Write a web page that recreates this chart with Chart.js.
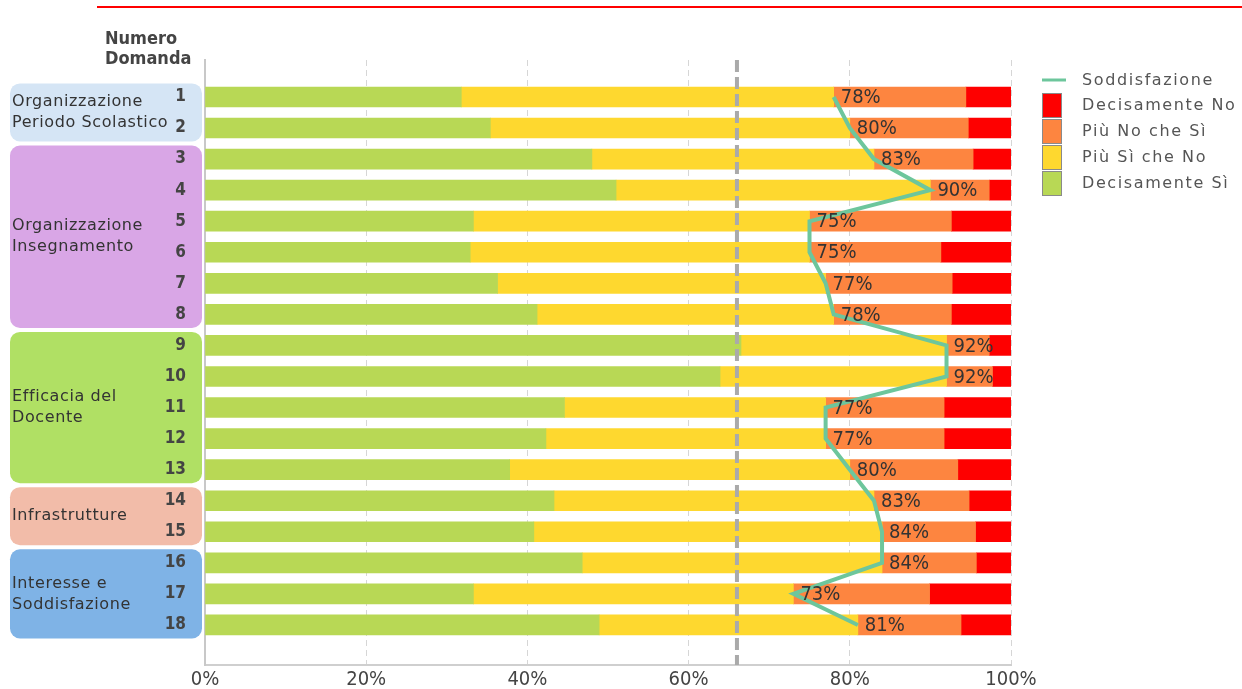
<!DOCTYPE html>
<html>
<head>
<meta charset="utf-8">
<script src="https://cdn.jsdelivr.net/npm/chart.js@4"></script>
<style>
  html, body { margin: 0; padding: 0; background: #ffffff; }
  #wrap { width: 1242px; height: 689px; position: relative; }
</style>
</head>
<body>
<div id="wrap"><canvas id="chart" width="1242" height="689"></canvas></div>
<script>
// Question numbers (one bar per question)
const questionNumbers = [1, 2, 3, 4, 5, 6, 7, 8, 9, 10, 11, 12, 13, 14, 15, 16, 17, 18];

// Answer shares, percent
const decisamenteSi = [31.8, 35.4, 48.0, 51.0, 33.3, 32.9, 36.3, 41.2, 66.5, 63.9, 44.6, 42.3, 37.8, 43.3, 40.8, 46.8, 33.3, 48.9];
const piuSiCheNo    = [46.2, 44.6, 35.0, 39.0, 41.7, 42.1, 40.7, 36.8, 25.5, 28.1, 32.4, 34.7, 42.2, 39.7, 43.2, 37.2, 39.7, 32.1];
const piuNoCheSi    = [16.4, 14.7, 12.3,  7.3, 17.6, 16.3, 15.7, 14.6,  5.3,  5.7, 14.7, 14.7, 13.4, 11.8, 11.6, 11.7, 16.9, 12.8];
const decisamenteNo = [ 5.6,  5.3,  4.7,  2.7,  7.4,  8.7,  7.3,  7.4,  2.7,  2.3,  8.3,  8.3,  6.6,  5.2,  4.4,  4.3, 10.1,  6.2];

// Satisfaction index (share of positive answers), percent
const soddisfazione = [78, 80, 83, 90, 75, 75, 77, 78, 92, 92, 77, 77, 80, 83, 84, 84, 73, 81];

// Reference threshold and x-axis ticks
const sogliaRiferimento = 66;
const xTickValues = [0, 20, 40, 60, 80, 100];

// Question groups
const groupLabels = [
  ['Organizzazione', 'Periodo Scolastico'],
  ['Organizzazione', 'Insegnamento'],
  ['Efficacia del', 'Docente'],
  ['Infrastrutture'],
  ['Interesse e', 'Soddisfazione']
];
const groupFirstQuestion = [1, 3, 9, 14, 16];
const groupLastQuestion  = [2, 8, 13, 15, 18];

const seriesNames = ['Decisamente Sì', 'Più Sì che No', 'Più No che Sì', 'Decisamente No'];
const lineName = 'Soddisfazione';

// ---- styling ----
const COLORS = {
  si: '#b8d855',
  piuSi: '#fed82f',
  piuNo: '#fd8540',
  no: '#fe0000',
  line: '#6dc69c',
  groups: ['#d5e5f5', '#d9a6e6', '#b0e064', '#f2bca9', '#7fb3e6']
};
const CONDENSED = '"DejaVu Sans Condensed", "Liberation Sans Narrow", "DejaVu Sans", sans-serif';
const REGULAR = '"DejaVu Sans", "Liberation Sans", sans-serif';

const barDataset = (label, data, color) => ({
  type: 'bar',
  label,
  data,
  backgroundColor: color,
  borderWidth: 0,
  barThickness: 20,
  indexAxis: 'y',
  stack: 'risposte',
  order: 2
});

// Group boxes, header and top rule drawn under the scales
const backgroundDecor = {
  id: 'backgroundDecor',
  beforeDraw(chart) {
    const { ctx } = chart;
    const y = chart.scales.y;
    ctx.save();
    ctx.strokeStyle = '#ff0000';
    ctx.lineWidth = 2;
    ctx.beginPath();
    ctx.moveTo(97, 7);
    ctx.lineTo(1242, 7);
    ctx.stroke();

    ctx.fillStyle = '#444444';
    ctx.font = 'bold 18px ' + CONDENSED;
    ctx.textAlign = 'left';
    ctx.textBaseline = 'middle';
    ctx.fillText('Numero', 105, 39);
    ctx.fillText('Domanda', 105, 59);

    groupLabels.forEach((lines, i) => {
      const top = y.getPixelForValue(groupFirstQuestion[i] - 0.5) + 2;
      const bottom = y.getPixelForValue(groupLastQuestion[i] + 0.5) - 2;
      ctx.fillStyle = COLORS.groups[i];
      ctx.beginPath();
      ctx.roundRect(10, top, 192, bottom - top, 10);
      ctx.fill();

      ctx.fillStyle = '#333333';
      ctx.font = '16px ' + REGULAR;
      ctx.letterSpacing = '0.6px';
      const lh = 21;
      const mid = (top + bottom) / 2;
      lines.forEach((t, k) => {
        ctx.fillText(t, 12, mid + (k - (lines.length - 1) / 2) * lh);
      });
      ctx.letterSpacing = '0px';
    });
    ctx.restore();
  }
};

// Threshold line and satisfaction value labels
const overlayDecor = {
  id: 'overlayDecor',
  afterDatasetsDraw(chart) {
    const { ctx, chartArea } = chart;
    const x = chart.scales.x;
    const y = chart.scales.y;
    ctx.save();
    const tx = x.getPixelForValue(sogliaRiferimento);
    ctx.strokeStyle = '#aaaaaa';
    ctx.lineWidth = 4;
    ctx.setLineDash([12, 5]);
    ctx.beginPath();
    ctx.moveTo(tx, chartArea.top);
    ctx.lineTo(tx, chartArea.bottom);
    ctx.stroke();
    ctx.setLineDash([]);

    ctx.fillStyle = '#333333';
    ctx.font = '20px ' + CONDENSED;
    ctx.textAlign = 'left';
    ctx.textBaseline = 'middle';
    soddisfazione.forEach((v, i) => {
      const px = x.getPixelForValue(v);
      const py = y.getPixelForValue(questionNumbers[i]);
      ctx.fillText(v + '%', px + 7, py + 1);
    });
    ctx.restore();
  },
  afterDraw(chart) {
    const { ctx } = chart;
    ctx.save();
    const lx = 1042, tx = 1082;
    ctx.strokeStyle = COLORS.line;
    ctx.lineWidth = 3;
    ctx.beginPath();
    ctx.moveTo(lx, 80);
    ctx.lineTo(lx + 24, 80);
    ctx.stroke();

    ctx.font = '16px ' + REGULAR;
    ctx.letterSpacing = '1.6px';
    ctx.fillStyle = '#555555';
    ctx.textAlign = 'left';
    ctx.textBaseline = 'middle';
    ctx.fillText(lineName, tx, 81);

    const legendItems = [
      [seriesNames[3], COLORS.no],
      [seriesNames[2], COLORS.piuNo],
      [seriesNames[1], COLORS.piuSi],
      [seriesNames[0], COLORS.si]
    ];
    legendItems.forEach(([name, color], k) => {
      const top = 93 + k * 26;
      ctx.fillStyle = color;
      ctx.fillRect(lx, top, 20, 25);
      ctx.strokeStyle = '#8a8a8a';
      ctx.lineWidth = 1;
      ctx.strokeRect(lx + 0.5, top + 0.5, 19, 24);
      ctx.fillStyle = '#555555';
      ctx.fillText(name, tx, top + 13);
    });
    ctx.restore();
  }
};

new Chart(document.getElementById('chart'), {
  type: 'bar',
  data: {
    labels: questionNumbers,
    datasets: [
      {
        type: 'line',
        label: lineName,
        data: soddisfazione,
        indexAxis: 'y',
        borderColor: COLORS.line,
        borderWidth: 4,
        pointRadius: 0,
        tension: 0,
        fill: false,
        stack: 'indice',
        order: 0
      },
      barDataset(seriesNames[0], decisamenteSi, COLORS.si),
      barDataset(seriesNames[1], piuSiCheNo, COLORS.piuSi),
      barDataset(seriesNames[2], piuNoCheSi, COLORS.piuNo),
      barDataset(seriesNames[3], decisamenteNo, COLORS.no)
    ]
  },
  options: {
    indexAxis: 'y',
    responsive: false,
    animation: false,
    events: [],
    layout: { padding: { top: 60, right: 231, left: 0, bottom: 0 } },
    plugins: { legend: { display: false }, tooltip: { enabled: false }, title: { display: false } },
    scales: {
      x: {
        type: 'linear',
        stacked: true,
        min: 0,
        max: 100,
        afterBuildTicks: (s) => { s.ticks = xTickValues.map(v => ({ value: v })); },
        afterFit: (s) => { s.height = 24; },
        ticks: {
          callback: (v) => v + '%',
          color: '#444444',
          font: { family: CONDENSED, size: 20 },
          padding: 3,
          maxRotation: 0
        },
        grid: { color: '#d6d6d6', lineWidth: 1, drawTicks: false },
        border: { display: true, color: '#cfcfcf', width: 2, dash: [6, 4] }
      },
      y: {
        type: 'linear',
        stacked: true,
        reverse: true,
        offset: false,
        min: -0.19,
        max: 19.29,
        afterBuildTicks: (s) => { s.ticks = questionNumbers.map(v => ({ value: v })); },
        afterFit: (s) => { s.width = 205; },
        ticks: {
          autoSkip: false,
          callback: (v) => String(v),
          color: '#444444',
          font: { family: CONDENSED, size: 17, weight: 'bold' },
          padding: 0
        },
        grid: {
          display: true,
          drawOnChartArea: false,
          drawTicks: true,
          tickLength: 19,
          tickColor: 'rgba(0,0,0,0)',
          offset: false
        },
        border: { display: true, color: '#c8c8c8', width: 2 }
      }
    }
  },
  plugins: [backgroundDecor, overlayDecor]
});
</script>
</body>
</html>
